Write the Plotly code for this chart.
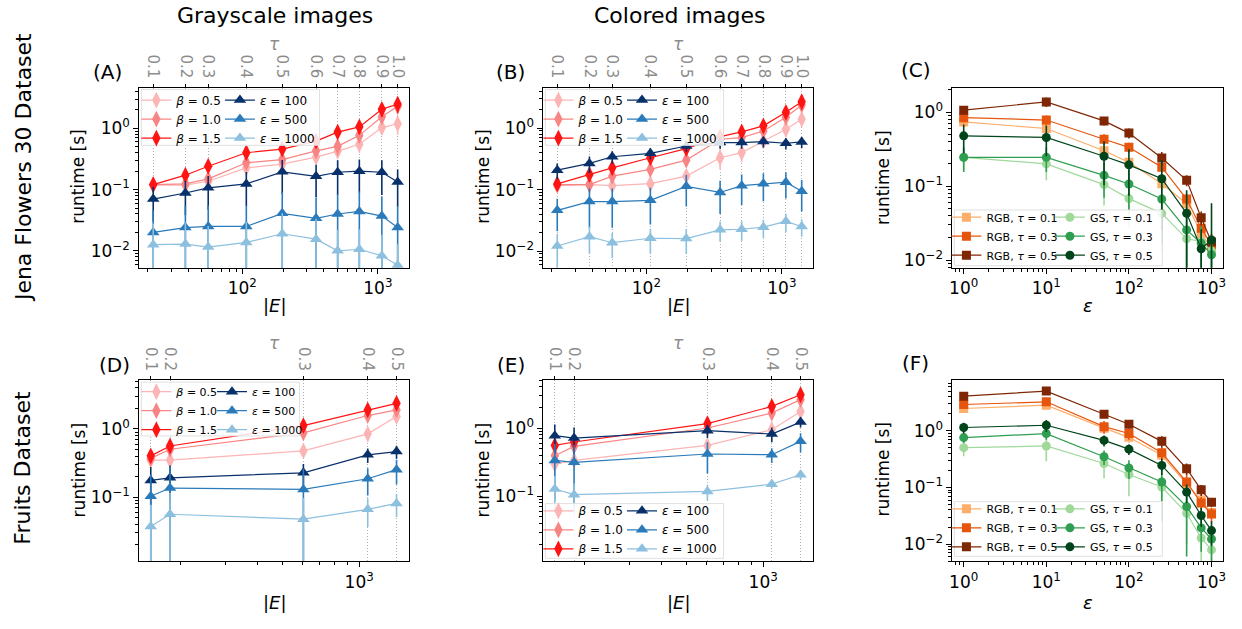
import plotly.graph_objects as go

W, H = 1242, 629
FONT = "DejaVu Sans"

# ---------------- data ----------------
E_jena = [22, 38, 56, 107, 197, 350, 505, 730, 1070, 1400]
tau_jena = ["0.1", "0.2", "0.3", "0.4", "0.5", "0.6", "0.7", "0.8", "0.9", "1.0"]
E_fruits = [153, 182, 605, 1080, 1400]
tau_fruits = ["0.1", "0.2", "0.3", "0.4", "0.5"]
eps_vals = [1, 10, 50, 100, 250, 500, 750, 1000]

beta_names = ["<i>β</i> = 0.5", "<i>β</i> = 1.0", "<i>β</i> = 1.5"]
eps_names = ["<i>ε</i> = 100", "<i>ε</i> = 500", "<i>ε</i> = 1000"]
rgb_names = ["RGB, <i>τ</i> = 0.1", "RGB, <i>τ</i> = 0.3", "RGB, <i>τ</i> = 0.5"]
gs_names = ["GS, <i>τ</i> = 0.1", "GS, <i>τ</i> = 0.3", "GS, <i>τ</i> = 0.5"]

# (A) Jena, grayscale
A_beta05 = [0.118, 0.118, 0.137, 0.227, 0.26, 0.34, 0.425, 0.55, 1.03, 1.19]
A_beta10 = [0.121, 0.124, 0.150, 0.274, 0.31, 0.43, 0.51, 0.77, 1.55, 2.3]
A_beta15 = [0.121, 0.172, 0.241, 0.40, 0.46, 0.62, 0.87, 1.06, 2.05, 2.5]
A_eps100 = [0.070, 0.088, 0.107, 0.124, 0.195, 0.165, 0.192, 0.200, 0.192, 0.133]
A_eps500 = [0.020, 0.024, 0.025, 0.025, 0.041, 0.034, 0.040, 0.044, 0.037, 0.024]
A_eps1000 = [0.0126, 0.0129, 0.0115, 0.0137, 0.0190, 0.0155, 0.0100, 0.0106, 0.0083, 0.0058]
A_beta05_err = [0.02, 0.02, 0.03, 0.04, 0.06, 0.08, 0.10, 0.15, 0.25, 0.40]
A_beta10_err = [0.02, 0.03, 0.03, 0.05, 0.07, 0.10, 0.15, 0.20, 0.35, 0.60]
A_beta15_err = [0.02, 0.03, 0.04, 0.06, 0.09, 0.12, 0.18, 0.25, 0.50, 0.70]
A_eps100_err = [0.04, 0.05, 0.06, 0.07, 0.11, 0.09, 0.11, 0.11, 0.11, 0.08]
A_eps500_err = [0.025, 0.03, 0.03, 0.03, 0.05, 0.04, 0.045, 0.05, 0.04, 0.03]
A_eps1000_err = [0.015, 0.016, 0.014, 0.016, 0.022, 0.018, 0.012, 0.012, 0.010, 0.007]

# (B) Jena, colored
B_beta05 = [0.116, 0.121, 0.116, 0.125, 0.166, 0.33, 0.40, 0.62, 0.96, 1.40]
B_beta10 = [0.121, 0.121, 0.166, 0.213, 0.302, 0.66, 0.70, 0.90, 1.50, 2.38]
B_beta15 = [0.124, 0.176, 0.226, 0.330, 0.464, 0.73, 0.87, 1.09, 1.81, 2.70]
B_eps100 = [0.207, 0.267, 0.343, 0.389, 0.513, 0.582, 0.582, 0.604, 0.568, 0.597]
B_eps500 = [0.046, 0.064, 0.064, 0.067, 0.113, 0.090, 0.116, 0.125, 0.132, 0.094]
B_eps1000 = [0.0121, 0.0172, 0.0137, 0.0162, 0.0160, 0.0222, 0.0227, 0.0245, 0.0305, 0.0251]
B_beta05_err = [0.02, 0.02, 0.02, 0.03, 0.04, 0.12, 0.12, 0.15, 0.25, 0.35]
B_beta10_err = [0.02, 0.03, 0.04, 0.05, 0.07, 0.15, 0.15, 0.20, 0.35, 0.50]
B_beta15_err = [0.02, 0.04, 0.05, 0.07, 0.10, 0.15, 0.20, 0.25, 0.40, 0.70]
B_eps100_err = [0.06, 0.08, 0.08, 0.08, 0.10, 0.12, 0.12, 0.12, 0.12, 0.12]
B_eps500_err = [0.025, 0.04, 0.04, 0.04, 0.06, 0.05, 0.06, 0.06, 0.06, 0.05]
B_eps1000_err = [0.007, 0.008, 0.006, 0.007, 0.007, 0.008, 0.008, 0.008, 0.010, 0.008]

# (C) Jena, runtime vs epsilon
C_rgb01 = [0.735, 0.60, 0.30, 0.21, 0.108, 0.058, 0.023, 0.0146]
C_rgb03 = [0.84, 0.78, 0.43, 0.334, 0.18, 0.067, 0.027, 0.016]
C_rgb05 = [1.06, 1.37, 0.76, 0.52, 0.24, 0.12, 0.0375, 0.0176]
C_gs01 = [0.245, 0.20, 0.105, 0.068, 0.043, 0.0195, 0.018, 0.0134]
C_gs03 = [0.245, 0.245, 0.14, 0.107, 0.067, 0.0257, 0.017, 0.0119]
C_gs05 = [0.478, 0.454, 0.253, 0.194, 0.126, 0.043, 0.0143, 0.0188]
C_rgb01_err = [0.10, 0.10, 0.05, 0.03, 0.02, 0.010, 0.005, 0.003]
C_rgb03_err = [0.12, 0.12, 0.07, 0.05, 0.03, 0.012, 0.006, 0.004]
C_rgb05_err = [0.15, 0.20, 0.10, 0.08, 0.05, 0.020, 0.008, 0.005]
C_gs01_err = [0.08, 0.08, 0.05, 0.04, 0.03, 0.018, 0.010, 0.008]
C_gs03_err = [0.09, 0.09, 0.07, 0.06, 0.05, 0.025, 0.012, 0.010]
C_gs05_err = [0.20, 0.20, 0.15, 0.12, 0.10, 0.045, 0.012, 0.040]

# (D) Fruits, grayscale
D_beta05 = [0.349, 0.349, 0.476, 0.847, 1.52]
D_beta10 = [0.37, 0.503, 0.875, 1.57, 1.90]
D_beta15 = [0.403, 0.562, 1.12, 1.90, 2.37]
D_eps100 = [0.176, 0.192, 0.227, 0.417, 0.466]
D_eps500 = [0.103, 0.136, 0.130, 0.186, 0.253]
D_eps1000 = [0.0373, 0.0562, 0.0476, 0.0664, 0.081]
D_beta05_err = [0.04, 0.05, 0.08, 0.20, 0.30]
D_beta10_err = [0.05, 0.06, 0.10, 0.25, 0.30]
D_beta15_err = [0.06, 0.08, 0.15, 0.30, 0.40]
D_eps100_err = [0.10, 0.10, 0.08, 0.10, 0.10]
D_eps500_err = [0.11, 0.14, 0.13, 0.08, 0.10]
D_eps1000_err = [0.04, 0.06, 0.05, 0.03, 0.03]

# (E) Fruits, colored
E_beta05 = [0.297, 0.336, 0.557, 0.945, 1.75]
E_beta10 = [0.394, 0.539, 1.0, 1.66, 2.60]
E_beta15 = [0.557, 0.624, 1.16, 2.07, 3.07]
E_eps100 = [0.772, 0.714, 0.914, 0.817, 1.22]
E_eps500 = [0.336, 0.315, 0.417, 0.407, 0.638]
E_eps1000 = [0.128, 0.106, 0.118, 0.151, 0.207]
E_beta05_err = [0.08, 0.08, 0.10, 0.30, 0.30]
E_beta10_err = [0.10, 0.10, 0.15, 0.35, 0.40]
E_beta15_err = [0.10, 0.12, 0.20, 0.40, 0.50]
E_eps100_err = [0.35, 0.30, 0.20, 0.20, 0.20]
E_eps500_err = [0.25, 0.25, 0.20, 0.10, 0.20]
E_eps1000_err = [0.07, 0.05, 0.03, 0.02, 0.03]

# (F) Fruits, runtime vs epsilon
F_rgb01 = [2.49, 2.85, 1.12, 0.77, 0.37, 0.116, 0.060, 0.036]
F_rgb03 = [2.93, 3.27, 1.19, 0.90, 0.41, 0.125, 0.053, 0.034]
F_rgb05 = [4.12, 5.06, 1.97, 1.31, 0.654, 0.215, 0.091, 0.055]
F_gs01 = [0.506, 0.542, 0.265, 0.17, 0.102, 0.035, 0.0128, 0.0079]
F_gs03 = [0.762, 0.897, 0.35, 0.222, 0.125, 0.046, 0.0193, 0.0123]
F_gs05 = [1.15, 1.26, 0.68, 0.476, 0.246, 0.083, 0.032, 0.0173]
F_rgb01_err = [0.30, 0.40, 0.20, 0.15, 0.08, 0.03, 0.015, 0.008]
F_rgb03_err = [0.40, 0.50, 0.30, 0.20, 0.10, 0.04, 0.015, 0.010]
F_rgb05_err = [0.50, 0.60, 0.30, 0.20, 0.15, 0.05, 0.020, 0.010]
F_gs01_err = [0.15, 0.25, 0.12, 0.10, 0.06, 0.025, 0.008, 0.003]
F_gs03_err = [0.15, 0.20, 0.10, 0.08, 0.10, 0.040, 0.012, 0.008]
F_gs05_err = [0.25, 0.30, 0.15, 0.10, 0.08, 0.030, 0.012, 0.008]

beta_colors = ["#fdb4b4", "#f98484", "#ff1414"]
eps_colors = ["#08306b", "#2b7bba", "#8cc0de"]
rgb_colors = ["#fdae6b", "#e6550d", "#7f2704"]
gs_colors = ["#a1d99b", "#2f9e50", "#00441b"]

# ---------------- helpers ----------------
def X(px):
    return px / W

def Y(py):
    return 1 - py / H

fig = go.Figure()

def add_series(x, ys, errs, names, colors, symbol, size, xa, ya, legend):
    for yv, ev, nm, col in zip(ys, errs, names, colors):
        fig.add_trace(go.Scatter(
            x=x, y=yv, mode="lines+markers", name=nm,
            xaxis=xa, yaxis=ya, legend=legend,
            line=dict(color=col, width=1.2),
            marker=dict(symbol=symbol, size=size, color=col, line=dict(width=0)),
            error_y=dict(type="data", array=ev, visible=True, color=col, thickness=1.6, width=0),
        ))

# A
add_series(E_jena, [A_beta05, A_beta10, A_beta15], [A_beta05_err, A_beta10_err, A_beta15_err],
           beta_names, beta_colors, "diamond-tall", 12, "x", "y", "legend")
add_series(E_jena, [A_eps100, A_eps500, A_eps1000], [A_eps100_err, A_eps500_err, A_eps1000_err],
           eps_names, eps_colors, "triangle-up", 11, "x", "y", "legend2")
# B
add_series(E_jena, [B_beta05, B_beta10, B_beta15], [B_beta05_err, B_beta10_err, B_beta15_err],
           beta_names, beta_colors, "diamond-tall", 12, "x2", "y2", "legend3")
add_series(E_jena, [B_eps100, B_eps500, B_eps1000], [B_eps100_err, B_eps500_err, B_eps1000_err],
           eps_names, eps_colors, "triangle-up", 11, "x2", "y2", "legend4")
# C
add_series(eps_vals, [C_rgb01, C_rgb03, C_rgb05], [C_rgb01_err, C_rgb03_err, C_rgb05_err],
           rgb_names, rgb_colors, "square", 9, "x3", "y3", "legend5")
add_series(eps_vals, [C_gs01, C_gs03, C_gs05], [C_gs01_err, C_gs03_err, C_gs05_err],
           gs_names, gs_colors, "circle", 9, "x3", "y3", "legend6")
# D
add_series(E_fruits, [D_beta05, D_beta10, D_beta15], [D_beta05_err, D_beta10_err, D_beta15_err],
           beta_names, beta_colors, "diamond-tall", 12, "x4", "y4", "legend7")
add_series(E_fruits, [D_eps100, D_eps500, D_eps1000], [D_eps100_err, D_eps500_err, D_eps1000_err],
           eps_names, eps_colors, "triangle-up", 11, "x4", "y4", "legend8")
# E
add_series(E_fruits, [E_beta05, E_beta10, E_beta15], [E_beta05_err, E_beta10_err, E_beta15_err],
           beta_names, beta_colors, "diamond-tall", 12, "x5", "y5", "legend9")
add_series(E_fruits, [E_eps100, E_eps500, E_eps1000], [E_eps100_err, E_eps500_err, E_eps1000_err],
           eps_names, eps_colors, "triangle-up", 11, "x5", "y5", "legend10")
# F
add_series(eps_vals, [F_rgb01, F_rgb03, F_rgb05], [F_rgb01_err, F_rgb03_err, F_rgb05_err],
           rgb_names, rgb_colors, "square", 9, "x6", "y6", "legend11")
add_series(eps_vals, [F_gs01, F_gs03, F_gs05], [F_gs01_err, F_gs03_err, F_gs05_err],
           gs_names, gs_colors, "circle", 9, "x6", "y6", "legend12")

# invisible traces to register the top (tau) axes
for xa, ya, ev in [("x7", "y", E_jena), ("x8", "y2", E_jena), ("x9", "y4", E_fruits), ("x10", "y5", E_fruits)]:
    fig.add_trace(go.Scatter(x=ev, y=[None] * len(ev), xaxis=xa, yaxis=ya, mode="markers",
                             showlegend=False, hoverinfo="skip"))

minor_vals = [m * 10.0 ** k for k in range(-3, 4) for m in range(2, 10)]

def sup(k):
    return "10<sup>" + ("−" + str(-k) if k < 0 else str(k)) + "</sup>"

def log_axis(domain, rng, anchor, majors):
    return dict(
        type="log", domain=domain, range=rng, anchor=anchor,
        tickmode="array", tickvals=[10.0 ** k for k in majors], ticktext=[sup(k) for k in majors],
        ticks="outside", ticklen=5, tickwidth=1, tickcolor="black",
        minor=dict(tickvals=minor_vals, ticks="outside", ticklen=3, tickwidth=0.8,
                   tickcolor="black", showgrid=False),
        showline=True, linecolor="black", linewidth=1, mirror=True,
        showgrid=False, zeroline=False,
        tickfont=dict(family=FONT, size=17, color="black"),
    )

def tau_axis(over, anchor, rng, vals, texts):
    return dict(
        type="log", overlaying=over, side="top", anchor=anchor, range=rng,
        tickmode="array", tickvals=vals, ticktext=texts, tickangle=90,
        tickfont=dict(family=FONT, size=15, color="#8c8c8c"),
        ticks="outside", ticklen=3, tickwidth=1, tickcolor="black",
        showgrid=True, gridcolor="#b0b0b0", griddash="1px,2px", gridwidth=1,
        showline=False, zeroline=False,
    )

colL = (X(137), X(408))
colM = (X(543), X(814))
colR = (X(954), X(1226))
rowT = (Y(269), Y(88))
rowB = (Y(564), Y(382))

xr_jena = [1.24, 3.23]
xr_fruits = [2.14, 3.195]
xr_eps = [-0.137, 3.14]

layout = dict(
    width=W, height=H, margin=dict(l=0, r=0, t=0, b=0),
    paper_bgcolor="white", plot_bgcolor="white",
    font=dict(family=FONT, color="black"),
    showlegend=True,
    xaxis=log_axis(colL, xr_jena, "y", [2, 3]),
    yaxis=log_axis(rowT, [-2.276, 0.667], "x", [-2, -1, 0]),
    xaxis2=log_axis(colM, xr_jena, "y2", [2, 3]),
    yaxis2=log_axis(rowT, [-2.27, 0.66], "x2", [-2, -1, 0]),
    xaxis3=log_axis(colR, xr_eps, "y3", [0, 1, 2, 3]),
    yaxis3=log_axis(rowT, [-2.10, 0.33], "x3", [-2, -1, 0]),
    xaxis4=log_axis(colL, xr_fruits, "y4", [3]),
    yaxis4=log_axis(rowB, [-1.94, 0.714], "x4", [-1, 0]),
    xaxis5=log_axis(colM, xr_fruits, "y5", [3]),
    yaxis5=log_axis(rowB, [-1.95, 0.70], "x5", [-1, 0]),
    xaxis6=log_axis(colR, xr_eps, "y6", [0, 1, 2, 3]),
    yaxis6=log_axis(rowB, [-2.305, 0.897], "x6", [-2, -1, 0]),
    xaxis7=tau_axis("x", "y", xr_jena, E_jena, tau_jena),
    xaxis8=tau_axis("x2", "y2", xr_jena, E_jena, tau_jena),
    xaxis9=tau_axis("x4", "y4", xr_fruits, E_fruits, tau_fruits),
    xaxis10=tau_axis("x5", "y5", xr_fruits, E_fruits, tau_fruits),
)

def leg(xpx, ypx, size, anchor="top"):
    return dict(x=X(xpx), y=Y(ypx), xanchor="left", yanchor=anchor,
                bgcolor="rgba(0,0,0,0)", borderwidth=0, tracegroupgap=0,
                font=dict(family=FONT, size=size, color="black"))

layout["legend"] = leg(134, 86, 12)
layout["legend2"] = leg(218, 86, 12)
layout["legend3"] = leg(538, 86, 12)
layout["legend4"] = leg(622, 86, 12)
layout["legend5"] = leg(948, 271, 11, "bottom")
layout["legend6"] = leg(1052, 271, 11, "bottom")
layout["legend7"] = leg(134, 379, 11)
layout["legend8"] = leg(210, 379, 11)
layout["legend9"] = leg(538, 566, 12, "bottom")
layout["legend10"] = leg(622, 566, 12, "bottom")
layout["legend11"] = leg(948, 564, 11, "bottom")
layout["legend12"] = leg(1052, 564, 11, "bottom")

fig.update_layout(**layout)

# legend frames
def box(x0, y0, x1, y1):
    fig.add_shape(type="rect", xref="paper", yref="paper", x0=X(x0), x1=X(x1), y0=Y(y0), y1=Y(y1),
                  fillcolor="rgba(255,255,255,0.85)", line=dict(color="#e0e0e0", width=1), layer="above")

box(139, 90, 318, 146)
box(545, 90, 724, 146)
box(956, 211, 1165, 267)
box(139, 384, 298, 438)
box(545, 506, 724, 561)
box(956, 504, 1165, 559)

def ann(text, xpx, ypx, size, angle=0, color="black"):
    fig.add_annotation(text=text, x=X(xpx), y=Y(ypx), xref="paper", yref="paper",
                       showarrow=False, textangle=angle, xanchor="center", yanchor="middle",
                       font=dict(family=FONT, size=size, color=color))

ann("Grayscale images", 273, 16, 22)
ann("Colored images", 680, 16, 22)
ann("Jena Flowers 30 Dataset", 20, 168, 22, -90)
ann("Fruits Dataset", 20, 470, 22, -90)

for lab, xp, yp in [("(A)", 105, 72), ("(B)", 510, 72), ("(C)", 917, 70),
                    ("(D)", 112, 367), ("(E)", 510, 367), ("(F)", 917, 365)]:
    ann(lab, xp, yp, 20)

for xp, yp in [(76, 178), (482, 178), (884, 179), (76, 473), (482, 473), (884, 472)]:
    ann("runtime [s]", xp, yp, 17, -90)

for xp, yp in [(273, 44), (679, 44), (273, 345), (679, 345)]:
    ann("<i>τ</i>", xp, yp, 17, 0, "#8c8c8c")

for txt, xp, yp in [("|<i>E</i>|", 273, 307), ("|<i>E</i>|", 679, 307), ("<i>ε</i>", 1090, 307),
                    ("|<i>E</i>|", 273, 605), ("|<i>E</i>|", 679, 605), ("<i>ε</i>", 1090, 605)]:
    ann(txt, xp, yp, 18)

fig.write_html("out.html")
